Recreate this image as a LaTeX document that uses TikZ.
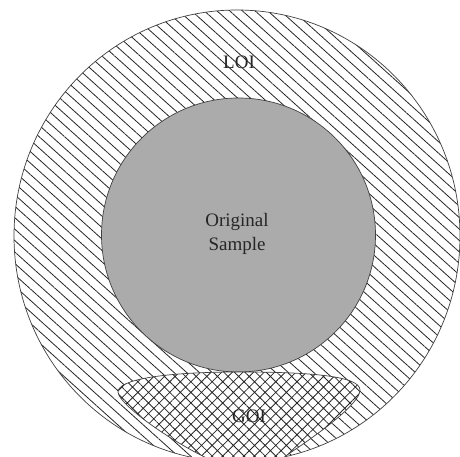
\documentclass[tikz,border=0pt]{standalone}
\usepackage{fontspec}
\setmainfont{Liberation Serif}
\usetikzlibrary{patterns.meta}
\tikzset{
  ringfill/.style={pattern={Lines[angle=-42,distance=8.5pt,line width=0.8pt]},pattern color=black!85},
  crossfill/.style={pattern={Hatch[angle=45,distance=7.5pt,line width=0.8pt]},pattern color=black!85},
  edge/.style={draw=black!75,line width=0.7pt},
  lbl/.style={font=\fontsize{19}{24}\selectfont,text=black!85,align=center,inner sep=0pt}
}
\begin{document}
\begin{tikzpicture}[x=1pt,y=1pt]
\useasboundingbox (0,0) rectangle (460,456);
\clip (0,0) rectangle (460,456);
\fill[white] (0,0) rectangle (460,456);
% outer ring (LOI)
\path[ringfill] (237,220) ellipse [x radius=223, y radius=226];
\draw[edge] (237,220) ellipse [x radius=223, y radius=226];
% inner sample
\filldraw[fill=black!33,edge] (238.5,221) circle [radius=137];
% GOI region
\path[fill=white] (118,64) .. controls (118,76) and (160,84) .. (240,84)
  .. controls (310,84) and (360,80) .. (360,66)
  .. controls (360,52) and (318,22) .. (290,3)
  .. controls (276,-7) and (264,-16) .. (250,-16)
  .. controls (215,-16) and (118,48) .. (118,64) -- cycle;
\path[crossfill] (118,64) .. controls (118,76) and (160,84) .. (240,84)
  .. controls (310,84) and (360,80) .. (360,66)
  .. controls (360,52) and (318,22) .. (290,3)
  .. controls (276,-7) and (264,-16) .. (250,-16)
  .. controls (215,-16) and (118,48) .. (118,64) -- cycle;
\draw[edge] (118,64) .. controls (118,76) and (160,84) .. (240,84)
  .. controls (310,84) and (360,80) .. (360,66)
  .. controls (360,52) and (318,22) .. (290,3)
  .. controls (276,-7) and (264,-16) .. (250,-16)
  .. controls (215,-16) and (118,48) .. (118,64) -- cycle;
% labels
\node[lbl] (loi) at (239,394) {LOI};
\node[lbl] (sample) at (237,222) {Original\\Sample};
\node[lbl] (goi) at (249,40) {GOI};
\end{tikzpicture}
\end{document}
